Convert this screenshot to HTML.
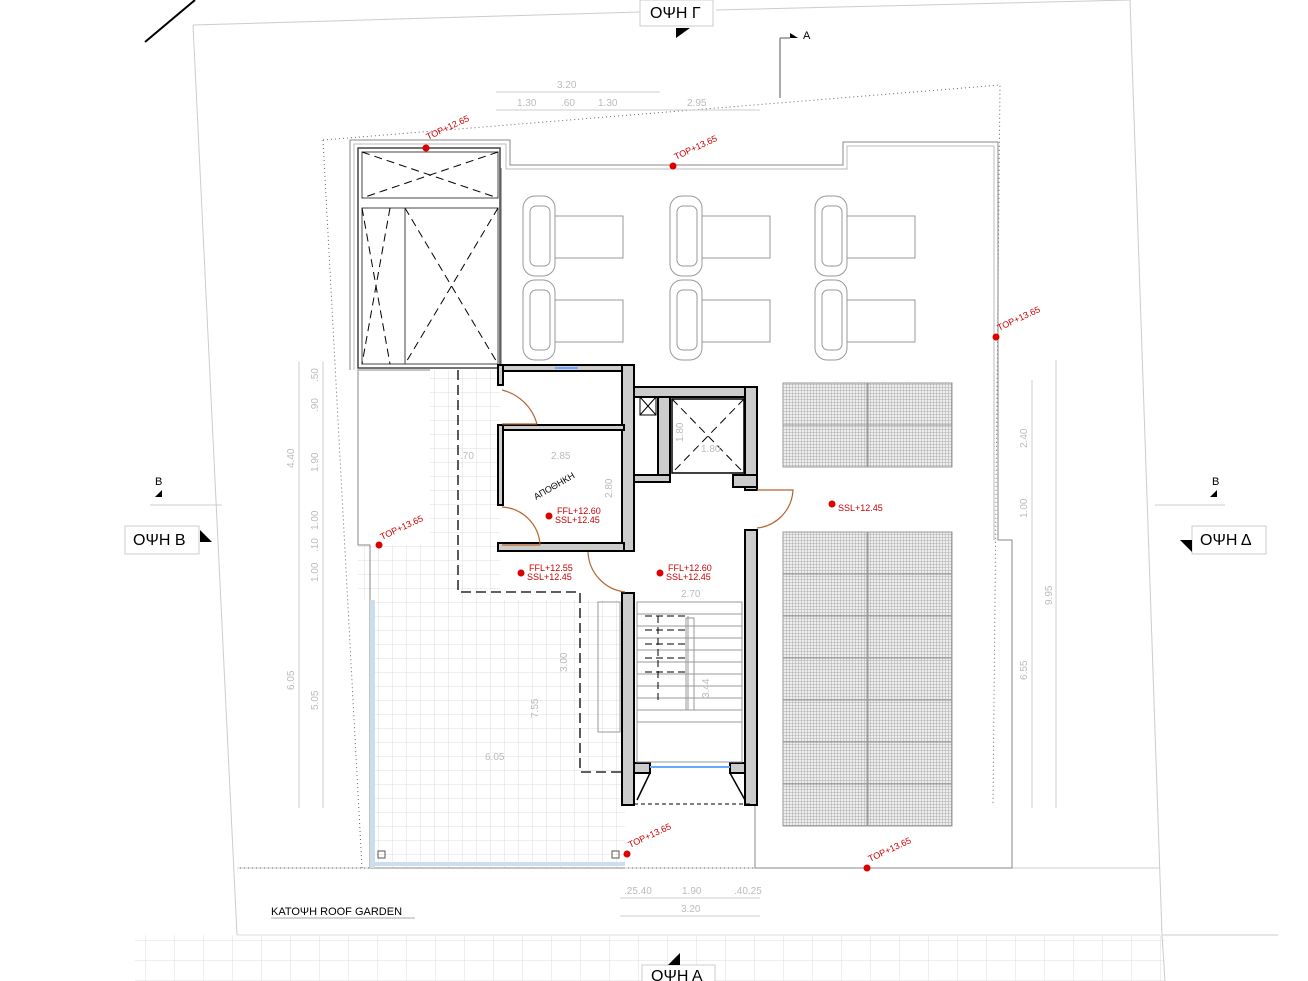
<!DOCTYPE html>
<html><head><meta charset="utf-8"><style>
html,body{margin:0;padding:0;background:#fff}
svg{display:block}
text{font-family:"Liberation Sans",sans-serif}
.d{fill:#bbb;font-size:10px}
.r{fill:#c00;font-size:9px}
</style></head><body>
<svg width="1308" height="981" viewBox="0 0 1308 981" xmlns="http://www.w3.org/2000/svg">
<defs>
<pattern id="pv" width="3" height="3" patternUnits="userSpaceOnUse"><rect width="3" height="3" fill="#eee"/><path d="M0 0H3M0 0V3" stroke="#999" stroke-width="0.8"/></pattern>
<pattern id="tile" width="14" height="14" patternUnits="userSpaceOnUse"><path d="M0 0H14M0 0V14" stroke="#ddd" stroke-width="1" fill="none"/></pattern>
<pattern id="tile2" width="29" height="20" patternUnits="userSpaceOnUse"><path d="M0 0H29M0 0V20" stroke="#ddd" stroke-width="1" fill="none"/></pattern>
</defs>
<line x1="145" y1="42" x2="195" y2="0" stroke="#000" stroke-width="2"/>
<polyline points="193,25 640,12" stroke="#ccc" fill="none"/>
<polyline points="716,10 1130,0" stroke="#ccc" fill="none"/>
<line x1="193" y1="25" x2="237" y2="935" stroke="#ccc"/>
<line x1="1130" y1="0" x2="1162" y2="935" stroke="#ccc"/>
<line x1="1162" y1="935" x2="1278" y2="935" stroke="#ccc"/>
<line x1="1162" y1="935" x2="1165" y2="981" stroke="#ccc"/>
<line x1="237" y1="935" x2="1160" y2="935" stroke="#ddd"/>
<line x1="237" y1="868" x2="1160" y2="868" stroke="#ccc"/>
<rect x="135" y="935" width="1030" height="46" fill="url(#tile2)"/>
<polyline points="323,140 1000,85 993,805" stroke="#666" stroke-dasharray="1,3" fill="none"/>
<line x1="323" y1="140" x2="362" y2="868" stroke="#666" stroke-dasharray="1,3"/>
<line x1="240" y1="868" x2="1012" y2="868" stroke="#666" stroke-dasharray="1,3"/>
<line x1="780" y1="38" x2="780" y2="98" stroke="#555"/>
<line x1="780" y1="38" x2="790" y2="38" stroke="#555"/>
<polygon points="790,33 798,38 790,38" fill="#000"/>
<text x="803" y="39" font-size="11">A</text>
<line x1="496" y1="92" x2="660" y2="92" stroke="#ccc"/>
<line x1="496" y1="110" x2="760" y2="110" stroke="#ccc"/>
<text class="d" x="557" y="88">3.20</text>
<text class="d" x="517" y="106">1.30</text><text class="d" x="561" y="106">.60</text><text class="d" x="598" y="106">1.30</text><text class="d" x="687" y="106">2.95</text>
<polyline points="350,370 350,140 510,140 510,165 843,165 843,142 998,142 998,540 1012,540 1012,868 755,868 755,805" fill="none" stroke="#888" stroke-width="1"/>
<polyline points="354,370 354,144 506,144 506,169 847,169 847,146 994,146 994,540" fill="none" stroke="#bbb"/>
<rect x="500" y="168" width="2" height="200" fill="#aaa"/>
<rect x="358" y="148" width="142" height="220" fill="none" stroke="#444" stroke-width="1.5"/>
<rect x="362" y="152" width="136" height="46" fill="none" stroke="#444"/>
<rect x="362" y="208" width="136" height="156" fill="none" stroke="#444"/>
<path d="M362 152L498 198M498 152L362 198M405 208L498 364M498 208L405 364M362 208L390 364M390 208L362 364" stroke="#000" stroke-dasharray="8,5"/>
<line x1="405" y1="208" x2="405" y2="364" stroke="#444"/>
<rect x="370" y="600" width="255" height="268" fill="url(#tile)"/>
<rect x="430" y="370" width="70" height="230" fill="url(#tile)"/>
<rect x="358" y="545" width="100" height="55" fill="url(#tile)"/>
<polyline points="430,370 358,370 358,545 370,545 370,868 625,868" fill="none" stroke="#888"/>
<rect x="370" y="600" width="5" height="268" fill="#cde"/>
<rect x="370" y="862" width="255" height="4" fill="#cde"/>
<rect x="378" y="851" width="7" height="7" fill="none" stroke="#555"/>
<rect x="612" y="851" width="7" height="7" fill="none" stroke="#555"/>
<polyline points="458,370 458,592 580,592 580,772 625,772" fill="none" stroke="#000" stroke-dasharray="10,5" stroke-width="1.3"/>
<g fill="none" stroke="#999">
<g id="l"><rect x="523" y="196" width="32" height="80" rx="12"/><rect x="530" y="206" width="20" height="60" rx="6"/><rect x="555" y="216" width="68" height="42"/></g>
<use href="#l" x="147"/><use href="#l" x="292"/>
<use href="#l" y="84"/><use href="#l" x="147" y="84"/><use href="#l" x="292" y="84"/>
</g>
<g stroke="#999" fill="url(#pv)">
<rect x="783" y="383" width="84" height="42"/><rect x="868" y="383" width="84" height="42"/>
<rect x="783" y="425" width="84" height="42"/><rect x="868" y="425" width="84" height="42"/>
<rect x="783" y="532" width="84" height="42"/><rect x="868" y="532" width="84" height="42"/>
<rect x="783" y="574" width="84" height="42"/><rect x="868" y="574" width="84" height="42"/>
<rect x="783" y="616" width="84" height="42"/><rect x="868" y="616" width="84" height="42"/>
<rect x="783" y="658" width="84" height="42"/><rect x="868" y="658" width="84" height="42"/>
<rect x="783" y="700" width="84" height="42"/><rect x="868" y="700" width="84" height="42"/>
<rect x="783" y="742" width="84" height="42"/><rect x="868" y="742" width="84" height="42"/>
<rect x="783" y="784" width="84" height="42"/><rect x="868" y="784" width="84" height="42"/>
</g>
<g fill="#ccc" stroke="#000" stroke-width="2">
<rect x="498" y="365" width="136" height="6"/>
<rect x="498" y="365" width="5" height="20"/>
<rect x="622" y="365" width="12" height="186"/>
<rect x="498" y="425" width="126" height="5"/>
<rect x="498" y="425" width="5" height="80"/>
<rect x="498" y="543" width="126" height="8"/>
<rect x="634" y="387" width="123" height="10"/>
<rect x="745" y="387" width="12" height="103"/>
<rect x="658" y="397" width="12" height="85"/>
<rect x="634" y="475" width="36" height="7"/>
<rect x="733" y="475" width="24" height="12"/>
<rect x="745" y="530" width="12" height="275"/>
<rect x="622" y="593" width="12" height="212"/>
<rect x="634" y="763" width="16" height="10"/>
<rect x="730" y="763" width="15" height="10"/>
</g>
<path d="M640 397h16v18h-16zM640 397l16 18M656 397l-16 18" fill="none" stroke="#000"/>
<rect x="672" y="399" width="72" height="74" fill="none" stroke="#000" stroke-width="1.5"/>
<path d="M672 399L744 473M744 399L672 473" stroke="#000" stroke-dasharray="8,5"/>
<path d="M650 773L637 800M730 773L745 800" stroke="#000" stroke-width="1.5"/>
<line x1="650" y1="767" x2="730" y2="767" stroke="#6af" stroke-width="2"/>
<line x1="555" y1="368" x2="578" y2="368" stroke="#6af" stroke-width="2"/>
<line x1="634" y1="804" x2="750" y2="804" stroke="#000" stroke-dasharray="4,3"/>
<g fill="none" stroke="#b5652e" stroke-width="1.2">
<path d="M502 390A48 48 0 0 1 537 424M502 424H537"/>
<path d="M502 507A40 40 0 0 1 540 545M502 545H540"/>
<path d="M588 552A42 42 0 0 0 625 592"/>
<path d="M757 490H793A40 40 0 0 1 757 528"/>
</g>
<g stroke="#999" fill="none">
<rect x="637" y="602" width="105" height="160"/>
<path d="M637 614H742M637 626H742M637 638H742M637 650H742M637 662H742M637 674H742M637 686H742M637 698H742M637 710H742M637 722H742"/>
<line x1="688" y1="616" x2="688" y2="710"/>
<rect x="686" y="618" width="8" height="92"/>
<rect x="598" y="602" width="22" height="130"/>
</g>
<path d="M645 616H685M645 630H685M645 644H685M645 658H685M645 672H685M658 616V700" stroke="#000" stroke-dasharray="7,4"/>
<text x="536" y="500" font-size="9" transform="rotate(-30 536 500)">ΑΠΟΘΗΚΗ</text>
<g class="r">
<text x="557" y="514">FFL+12.60</text><text x="555" y="523">SSL+12.45</text>
<text x="529" y="571">FFL+12.55</text><text x="527" y="580">SSL+12.45</text>
<text x="668" y="571">FFL+12.60</text><text x="666" y="580">SSL+12.45</text>
<text x="838" y="511">SSL+12.45</text>
<text x="428" y="140" transform="rotate(-25 428 140)">TOP+12.65</text>
<text x="676" y="160" transform="rotate(-25 676 160)">TOP+13.65</text>
<text x="999" y="331" transform="rotate(-25 999 331)">TOP+13.65</text>
<text x="382" y="540" transform="rotate(-25 382 540)">TOP+13.65</text>
<text x="630" y="848" transform="rotate(-25 630 848)">TOP+13.65</text>
<text x="870" y="862" transform="rotate(-25 870 862)">TOP+13.65</text>
</g>
<g fill="#d00"><circle cx="426" cy="148" r="3.5"/><circle cx="673" cy="166" r="3.5"/><circle cx="996" cy="337" r="3.5"/><circle cx="379" cy="545" r="3.5"/><circle cx="627" cy="854" r="3.5"/><circle cx="867" cy="868" r="3.5"/><circle cx="549" cy="516" r="3.5"/><circle cx="521" cy="573" r="3.5"/><circle cx="660" cy="573" r="3.5"/><circle cx="832" cy="504" r="3.5"/></g>
<g class="d">
<text x="551" y="459">2.85</text><text x="460" y="459">.70</text><text x="681" y="597">2.70</text><text x="485" y="760">6.05</text>
<text x="701" y="452">1.80</text>
<text transform="translate(612 498) rotate(-90)">2.80</text>
<text transform="translate(567 672) rotate(-90)">3.00</text>
<text transform="translate(538 718) rotate(-90)">7.55</text>
<text transform="translate(683 442) rotate(-90)">1.80</text>
<text transform="translate(709 698) rotate(-90)">3.44</text>
<text transform="translate(294 468) rotate(-90)">4.40</text>
<text transform="translate(294 690) rotate(-90)">6.05</text>
<text transform="translate(318 382) rotate(-90)">.50</text>
<text transform="translate(318 412) rotate(-90)">.90</text>
<text transform="translate(318 472) rotate(-90)">1.90</text>
<text transform="translate(318 530) rotate(-90)">1.00</text>
<text transform="translate(318 552) rotate(-90)">.10</text>
<text transform="translate(318 582) rotate(-90)">1.00</text>
<text transform="translate(318 710) rotate(-90)">5.05</text>
<text transform="translate(1027 448) rotate(-90)">2.40</text>
<text transform="translate(1027 518) rotate(-90)">1.00</text>
<text transform="translate(1027 680) rotate(-90)">6.55</text>
<text transform="translate(1052 605) rotate(-90)">9.95</text>
<text x="624" y="894">.25.40</text><text x="682" y="894">1.90</text><text x="734" y="894">.40.25</text><text x="681" y="912">3.20</text>
</g>
<g stroke="#ccc">
<line x1="299" y1="362" x2="299" y2="808"/><line x1="323" y1="362" x2="323" y2="808"/>
<line x1="1032" y1="380" x2="1032" y2="808"/><line x1="1056" y1="360" x2="1056" y2="808"/>
<line x1="620" y1="898" x2="760" y2="898"/><line x1="620" y1="916" x2="760" y2="916"/>
</g>
<rect x="640" y="0" width="73" height="26" fill="#fff" stroke="#ccc"/>
<text x="650" y="18" font-size="16">ΟΨΗ Γ</text>
<polygon points="676,28 690,28 676,38" fill="#000"/>
<rect x="125" y="526" width="74" height="28" fill="#fff" stroke="#ccc"/>
<text x="133" y="545" font-size="16">ΟΨΗ Β</text>
<polygon points="200,530 212,542 200,542" fill="#000"/>
<rect x="1192" y="526" width="74" height="28" fill="#fff" stroke="#ccc"/>
<text x="1200" y="545" font-size="16">ΟΨΗ Δ</text>
<polygon points="1192,540 1180,540 1192,552" fill="#000"/>
<rect x="642" y="965" width="73" height="20" fill="#fff" stroke="#ccc"/>
<text x="651" y="981" font-size="16">ΟΨΗ Α</text>
<polygon points="668,965 680,953 680,965" fill="#000"/>
<line x1="150" y1="505" x2="222" y2="505" stroke="#ccc"/>
<text x="155" y="485" font-size="11">B</text><polygon points="155,497 162,490 162,497" fill="#000"/>
<line x1="1155" y1="505" x2="1225" y2="505" stroke="#ccc"/>
<text x="1212" y="485" font-size="11">B</text><polygon points="1210,497 1217,490 1217,497" fill="#000"/>
<text x="271" y="915" font-size="11">ΚΑΤΟΨΗ  ROOF GARDEN</text>
<line x1="271" y1="918" x2="415" y2="918" stroke="#aaa"/>
</svg>
</body></html>
